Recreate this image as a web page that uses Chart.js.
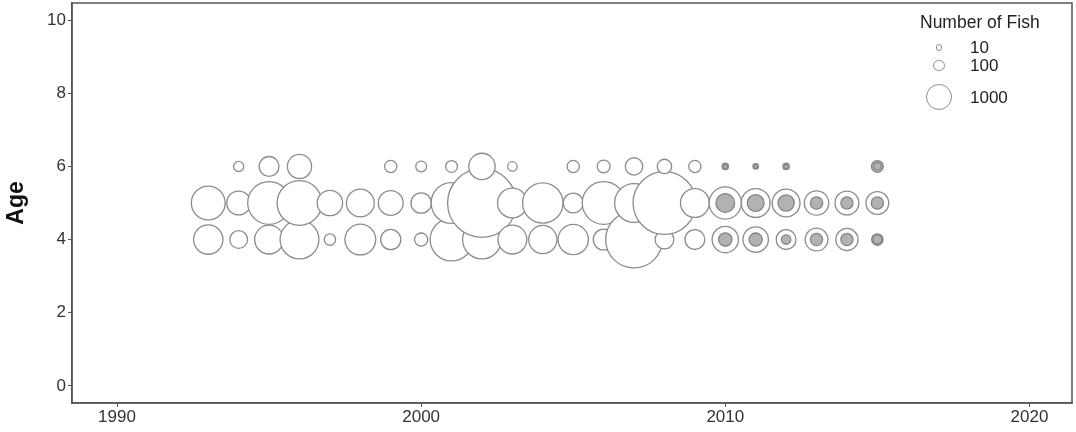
<!DOCTYPE html>
<html>
<head>
<meta charset="utf-8">
<title>Number of Fish by Age</title>
<script src="https://cdn.jsdelivr.net/npm/chart.js@4/dist/chart.umd.min.js"></script>
<style>
  html, body { margin: 0; padding: 0; background: #fff; }
  #wrap { position: relative; width: 1076px; height: 432px; }
  #legend {
    position: absolute; left: 905px; top: 12px;
    font-family: "Liberation Sans", Arial, sans-serif; font-size: 17px; color: #222;
  }
  #legend .title { line-height: 20px; margin-left: 15px; margin-bottom: 7px; font-size: 17.5px; }
  #legend .row { display: flex; align-items: center; }
  #legend .key { width: 68px; display: flex; justify-content: center; align-items: center; }
  #legend .dot { border: 1.3px solid #8c8c8c; border-radius: 50%; background: #fff; box-sizing: border-box; }
  #legend .lab { line-height: 17px; margin-left: -3px; }
</style>
</head>
<body>
<div id="wrap">
  <canvas id="fishChart" width="1076" height="432"></canvas>
  <div id="legend"></div>
</div>
<script>
// survey years and ages
const years = [1993, 1994, 1995, 1996, 1997, 1998, 1999, 2000, 2001, 2002, 2003, 2004,
               2005, 2006, 2007, 2008, 2009, 2010, 2011, 2012, 2013, 2014, 2015];
const ages = [4, 5, 6];

// number of fish caught per year, by age (null = none)
const age4 = [1480, 460, 1420, 2740, 145, 1650, 625, 215, 3390, 2740, 1420, 1350,
              1590, 670, 6210, 525, 600, 1160, 1070, 600, 830, 780, 68];
const age5 = [2030, 920, 3390, 3740, 1070, 1310, 1010, 640, 3060, 9300, 1520, 3000,
              600, 3390, 2740, 7680, 1420, 1820, 1420, 1310, 970, 920, 830];
const age6 = [null, 105, 600, 950, null, null, 175, 125, 160, 1160, 85, null,
              175, 200, 435, 270, 175, 22, 10, 22, null, null, 40];

// later years also have a sampled subset
const subYears = [2010, 2011, 2012, 2013, 2014, 2015];
const sub4 = [225, 215, 83, 175, 175, 145];
const sub5 = [525, 400, 365, 183, 175, 175];
const sub6 = [3, 1, 3, null, null, 160];

const legendCounts = [10, 100, 1000];
const xTicks = [1990, 2000, 2010, 2020];
const yTicks = [0, 2, 4, 6, 8, 10];

// bubble radius in px from a fish count
function fishRadius(n) {
  return 1.6 + 0.34 * Math.sqrt(n);
}

// one point per year/age, ordered by year then age so later bubbles sit on top
function buildPoints(yrs, cols) {
  const pts = [];
  yrs.forEach((yr, i) => {
    ages.forEach((age, k) => {
      const n = cols[k][i];
      if (n == null) return;
      pts.push({ x: yr, y: age, r: fishRadius(n), n: n });
    });
  });
  return pts;
}

const allFish = buildPoints(years, [age4, age5, age6]);
const subFish = buildPoints(subYears, [sub4, sub5, sub6]);

const axisColor = '#555';
const tickFont = { family: '"Liberation Sans", Arial, sans-serif', size: 17 };

// closes the panel box on the top and right
const frame = {
  id: 'frame',
  afterDraw(chart) {
    const { ctx, chartArea: a } = chart;
    ctx.save();
    ctx.strokeStyle = axisColor;
    ctx.lineWidth = 1.5;
    ctx.strokeRect(a.left, a.top, a.right - a.left, a.bottom - a.top);
    ctx.restore();
  }
};

new Chart(document.getElementById('fishChart'), {
  type: 'bubble',
  data: {
    datasets: [
      {
        label: 'Number of Fish',
        data: allFish,
        order: 2,
        backgroundColor: '#ffffff',
        borderColor: '#8c8c8c',
        borderWidth: 1.3
      },
      {
        label: 'Sampled',
        data: subFish,
        order: 1,
        backgroundColor: 'rgba(130,130,130,0.62)',
        borderColor: '#858585',
        borderWidth: 1.3
      }
    ]
  },
  options: {
    responsive: false,
    animation: false,
    events: [],
    layout: { autoPadding: false, padding: { top: 3, right: 4, left: 0, bottom: 0 } },
    plugins: {
      legend: { display: false },
      tooltip: { enabled: false }
    },
    scales: {
      x: {
        type: 'linear',
        min: 1988.52,
        max: 2021.4,
        afterBuildTicks: s => { s.ticks = xTicks.map(v => ({ value: v })); },
        afterFit: s => { s.height = 29; s.paddingLeft = 0; s.paddingRight = 0; },
        ticks: { font: tickFont, color: '#333', padding: 0, maxRotation: 0,
                 callback: v => String(v) },
        grid: { drawOnChartArea: false, tickLength: 4, color: axisColor },
        border: { color: axisColor, width: 1.5 }
      },
      y: {
        type: 'linear',
        min: -0.47,
        max: 10.47,
        afterBuildTicks: s => { s.ticks = yTicks.map(v => ({ value: v })); },
        afterFit: s => { s.width = 72; s.paddingTop = 0; s.paddingBottom = 0; },
        ticks: { font: tickFont, color: '#333', padding: 2 },
        grid: { drawOnChartArea: false, tickLength: 4, color: axisColor },
        border: { color: axisColor, width: 1.5 },
        title: {
          display: true,
          text: 'Age',
          color: '#111',
          padding: { top: 3, bottom: 0 },
          font: { family: '"Liberation Sans", Arial, sans-serif', size: 23, weight: 'bold' }
        }
      }
    }
  },
  plugins: [frame]
});

// size legend
const legend = document.getElementById('legend');
const title = document.createElement('div');
title.className = 'title';
title.textContent = 'Number of Fish';
legend.appendChild(title);
legendCounts.forEach(n => {
  const r = fishRadius(n) + 0.6;
  const row = document.createElement('div');
  row.className = 'row';
  row.style.height = Math.max(17, 2 * r * 1.7) + 'px';
  const key = document.createElement('div');
  key.className = 'key';
  const dot = document.createElement('div');
  dot.className = 'dot';
  dot.style.width = dot.style.height = (2 * r) + 'px';
  key.appendChild(dot);
  const lab = document.createElement('span');
  lab.className = 'lab';
  lab.textContent = String(n);
  row.appendChild(key);
  row.appendChild(lab);
  legend.appendChild(row);
});
</script>
</body>
</html>
